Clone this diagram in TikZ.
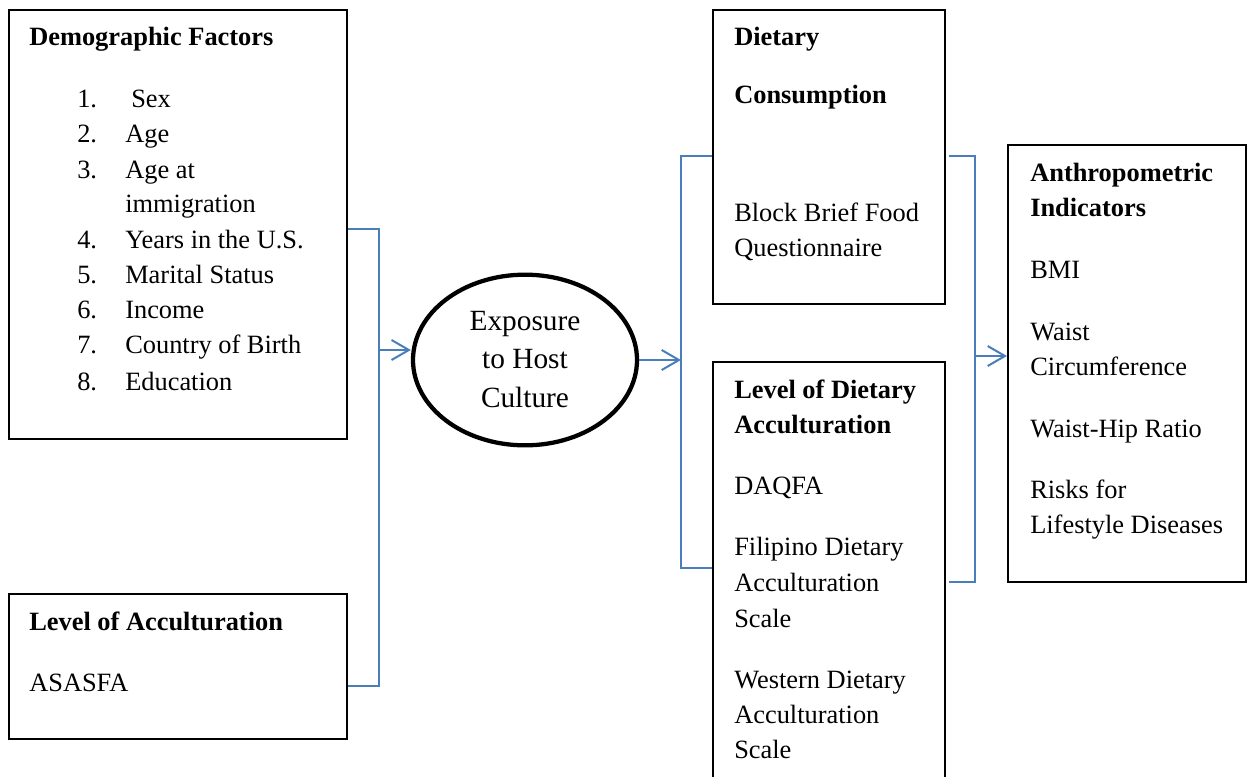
\documentclass[tikz,border=0pt]{standalone}
\usepackage{fontspec}
\setmainfont{Liberation Serif}
\usetikzlibrary{arrows.meta,fit,shapes.geometric}
\definecolor{conn}{RGB}{74,126,187}
\begin{document}
\begin{tikzpicture}[x=0.75pt,y=-0.75pt,
 box/.style={draw, line width=1.5pt, inner sep=0pt, fit={#1}},
 txt/.style={anchor=base west, inner sep=0pt, font=\fontsize{19.8pt}{24pt}\selectfont},
 hd/.style={anchor=base west, inner sep=0pt, font=\fontsize{19.8pt}{24pt}\selectfont\bfseries},
 ctxt/.style={anchor=base, inner sep=0pt, font=\fontsize{22pt}{26pt}\selectfont},
 link/.style={draw=conn, line width=1.5pt},
 arr/.style={link, -{Straight Barb[length=13pt,width=15pt,line width=1.5pt]}}]
\clip (0,0) rectangle (1253,776);
\fill[white] (0,0) rectangle (1253,776);

% boxes
\node[box={(9,10) (347,439)}] (demo) {};
\node[box={(9,594) (347,739)}] (acc) {};
\node[box={(713,10) (945,304)}] (dc) {};
\node[box={(713,362) (945,800)}] (lda) {};
\node[box={(1008,145) (1246,582)}] (an) {};
\node[draw, ellipse, line width=3.2pt, minimum width=168pt, minimum height=128pt, inner sep=0pt] (exp) at (525,360) {};

% Demographic factors
\node[hd] (d0) at (29,45) {Demographic Factors};
\node[txt] (n1) at (77,107) {1.};
\node[txt] (i1) at (131,107) {Sex};
\node[txt] (n2) at (77,142) {2.};
\node[txt] (i2) at (125,142) {Age};
\node[txt] (n3) at (77,178) {3.};
\node[txt] (i3) at (125,178) {Age at};
\node[txt] (i3b) at (125,212) {immigration};
\node[txt] (n4) at (77,248) {4.};
\node[txt] (i4) at (125,248) {Years in the U.S.};
\node[txt] (n5) at (77,283) {5.};
\node[txt] (i5) at (125,283) {Marital Status};
\node[txt] (n6) at (77,318) {6.};
\node[txt] (i6) at (125,318) {Income};
\node[txt] (n7) at (77,353) {7.};
\node[txt] (i7) at (125,353) {Country of Birth};
\node[txt] (n8) at (77,390) {8.};
\node[txt] (i8) at (125,390) {Education};

% Level of acculturation
\node[hd] (a0) at (29,630) {Level of Acculturation};
\node[txt] (a1) at (29,691) {ASASFA};

% Exposure
\node[ctxt] (e1) at (525,330) {Exposure};
\node[ctxt] (e2) at (525,368) {to Host};
\node[ctxt] (e3) at (525,407) {Culture};

% Dietary consumption
\node[hd] (c0) at (734,45) {Dietary};
\node[hd] (c1) at (734,103) {Consumption};
\node[txt] (c2) at (734,221) {Block Brief Food};
\node[txt] (c3) at (734,256) {Questionnaire};

% Level of dietary acculturation
\node[hd] (l0) at (734,398) {Level of Dietary};
\node[hd] (l1) at (734,433) {Acculturation};
\node[txt] (l2) at (734,494) {DAQFA};
\node[txt] (l3) at (734,555) {Filipino Dietary};
\node[txt] (l4) at (734,591) {Acculturation};
\node[txt] (l5) at (734,627) {Scale};
\node[txt] (l6) at (734,688) {Western Dietary};
\node[txt] (l7) at (734,723) {Acculturation};
\node[txt] (l8) at (734,758) {Scale};

% Anthropometric indicators
\node[hd] (p0) at (1030,181) {Anthropometric};
\node[hd] (p1) at (1030,216) {Indicators};
\node[txt] (p2) at (1030,278) {BMI};
\node[txt] (p3) at (1030,340) {Waist};
\node[txt] (p4) at (1030,375) {Circumference};
\node[txt] (p5) at (1030,437) {Waist-Hip Ratio};
\node[txt] (p6) at (1030,498) {Risks for};
\node[txt] (p7) at (1030,533) {Lifestyle Diseases};

% connectors
\coordinate (L1) at (379,229);
\coordinate (L2) at (379,686);
\coordinate (L3) at (379,350);
\draw[link] (demo.east |- L1) -- (L1) -- (L2) -- (acc.east |- L2);
\draw[arr] (L3) -- (L3 -| exp.west);

\coordinate (M1) at (681,156);
\coordinate (M2) at (681,568);
\draw[link] (dc.west |- M1) -- (M1) -- (M2) -- (lda.west |- M2);
\draw[arr] (exp.east) -- (exp.east -| M1);

\coordinate (R1) at (975,156);
\coordinate (R2) at (975,582);
\coordinate (R3) at (975,356);
\draw[link] ([xshift=2pt]dc.east |- R1) -- (R1) -- (R2) -- ([xshift=2pt]lda.east |- R2);
\draw[arr] (R3) -- (R3 -| an.west);
\end{tikzpicture}
\end{document}
